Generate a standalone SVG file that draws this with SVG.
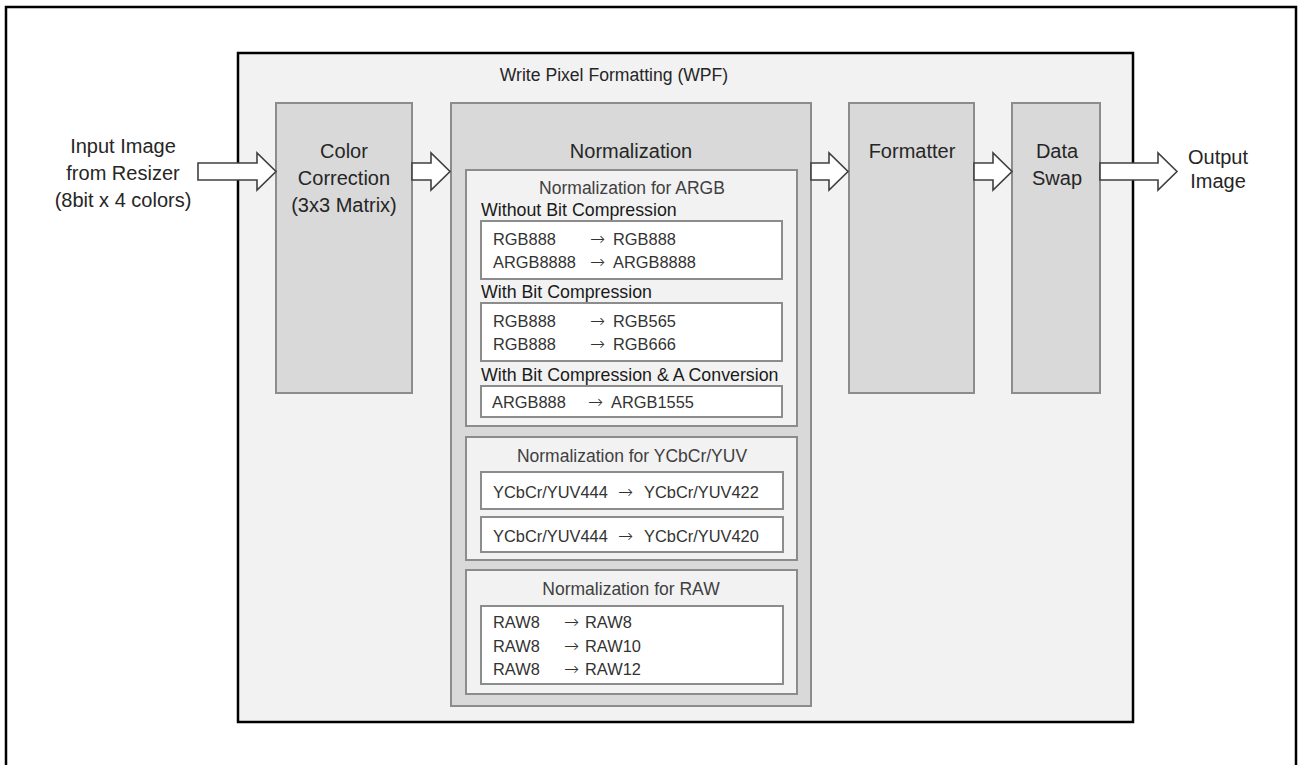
<svg xmlns="http://www.w3.org/2000/svg" width="1301" height="765" viewBox="0 0 1301 765">
<style>
.frame{fill:#ffffff;stroke:#000;stroke-width:2.5}
.wpf{fill:#f2f2f2;stroke:#000;stroke-width:2.5}
.blk{fill:#d9d9d9;stroke:#8c8c8c;stroke-width:2}
.sub{fill:#f2f2f2;stroke:#8c8c8c;stroke-width:2}
.wht{fill:#ffffff;stroke:#8c8c8c;stroke-width:2}
.arr{fill:#ffffff;stroke:#404040;stroke-width:1.6;stroke-linejoin:miter}
text{font-family:"Liberation Sans",Arial,sans-serif}
.lbl{font-size:20px;fill:#262626;text-anchor:middle}
.ttl{font-size:17.6px;fill:#262626;text-anchor:middle}
.sh{font-size:17.5px;fill:#404040;text-anchor:middle}
.cat{font-size:17.8px;fill:#1a1a1a}
.ent{font-size:16.4px;fill:#333333}
.ra{font-family:"DejaVu Sans",sans-serif;font-size:18px;font-weight:200}
</style>
<rect class="frame" x="6" y="7" width="1290" height="770"/>
<g id="wpf">
<rect class="wpf" x="238" y="53" width="895" height="669"/>
<text class="ttl" x="614" y="81">Write Pixel Formatting (WPF)</text>
</g>
<g id="input-label">
<text class="lbl" x="123" y="153">Input Image</text>
<text class="lbl" x="123" y="180">from Resizer</text>
<text class="lbl" x="123" y="207">(8bit x 4 colors)</text>
</g>
<g id="color-correction">
<rect class="blk" x="276" y="103" width="136" height="290"/>
<text class="lbl" x="344" y="158">Color</text>
<text class="lbl" x="344" y="185">Correction</text>
<text class="lbl" x="344" y="212">(3x3 Matrix)</text>
</g>
<g id="normalization">
<rect class="blk" x="451" y="103" width="360" height="603"/>
<text class="lbl" x="631" y="158">Normalization</text>
<g id="norm-argb">
<rect class="sub" x="466" y="170" width="331" height="256"/>
<text class="sh" x="632" y="194">Normalization for ARGB</text>
<text class="cat" x="481" y="216">Without Bit Compression</text>
<rect class="wht" x="481" y="221" width="301" height="58"/>
<text class="ent" y="245"><tspan x="493">RGB888</tspan><tspan class="ra" x="590">→</tspan><tspan x="613">RGB888</tspan></text>
<text class="ent" y="268"><tspan x="493">ARGB8888</tspan><tspan class="ra" x="590">→</tspan><tspan x="613">ARGB8888</tspan></text>
<text class="cat" x="481" y="298">With Bit Compression</text>
<rect class="wht" x="481" y="303" width="301" height="58"/>
<text class="ent" y="327"><tspan x="493">RGB888</tspan><tspan class="ra" x="590">→</tspan><tspan x="613">RGB565</tspan></text>
<text class="ent" y="350"><tspan x="493">RGB888</tspan><tspan class="ra" x="590">→</tspan><tspan x="613">RGB666</tspan></text>
<text class="cat" x="481" y="381">With Bit Compression &amp; A Conversion</text>
<rect class="wht" x="481" y="386" width="301" height="31"/>
<text class="ent" y="408"><tspan x="492">ARGB888</tspan><tspan class="ra" x="588">→</tspan><tspan x="611">ARGB1555</tspan></text>
</g>
<g id="norm-ycbcr">
<rect class="sub" x="466" y="437" width="331" height="123"/>
<text class="sh" x="632" y="462">Normalization for YCbCr/YUV</text>
<rect class="wht" x="481" y="472" width="302" height="37"/>
<text class="ent" y="498"><tspan x="493">YCbCr/YUV444</tspan><tspan class="ra" x="618">→</tspan><tspan x="644">YCbCr/YUV422</tspan></text>
<rect class="wht" x="481" y="517" width="302" height="35"/>
<text class="ent" y="542"><tspan x="493">YCbCr/YUV444</tspan><tspan class="ra" x="618">→</tspan><tspan x="644">YCbCr/YUV420</tspan></text>
</g>
<g id="norm-raw">
<rect class="sub" x="466" y="570" width="331" height="124"/>
<text class="sh" x="631" y="595">Normalization for RAW</text>
<rect class="wht" x="481" y="606" width="302" height="78"/>
<text class="ent" y="628"><tspan x="493">RAW8</tspan><tspan class="ra" x="564">→</tspan><tspan x="585">RAW8</tspan></text>
<text class="ent" y="652"><tspan x="493">RAW8</tspan><tspan class="ra" x="564">→</tspan><tspan x="585">RAW10</tspan></text>
<text class="ent" y="675"><tspan x="493">RAW8</tspan><tspan class="ra" x="564">→</tspan><tspan x="585">RAW12</tspan></text>
</g>
</g>
<g id="formatter">
<rect class="blk" x="849" y="103" width="125" height="290"/>
<text class="lbl" x="912" y="158">Formatter</text>
</g>
<g id="data-swap">
<rect class="blk" x="1012" y="103" width="88" height="290"/>
<text class="lbl" x="1057" y="158">Data</text>
<text class="lbl" x="1057" y="185">Swap</text>
</g>
<g id="output-label">
<text class="lbl" x="1218" y="164">Output</text>
<text class="lbl" x="1218" y="188">Image</text>
</g>
<g id="connectors">
<path class="arr" d="M198,163 H257 V153 L276,171.5 L257,190 V180 H198 Z"/>
<path class="arr" d="M412,163 H431 V153 L450,171.5 L431,190 V180 H412 Z"/>
<path class="arr" d="M811,163 H829 V153 L848,171.5 L829,190 V180 H811 Z"/>
<path class="arr" d="M974,163 H993 V153 L1012,171.5 L993,190 V180 H974 Z"/>
<path class="arr" d="M1100,163 H1158 V153 L1177,171.5 L1158,190 V180 H1100 Z"/>
</g>
</svg>
